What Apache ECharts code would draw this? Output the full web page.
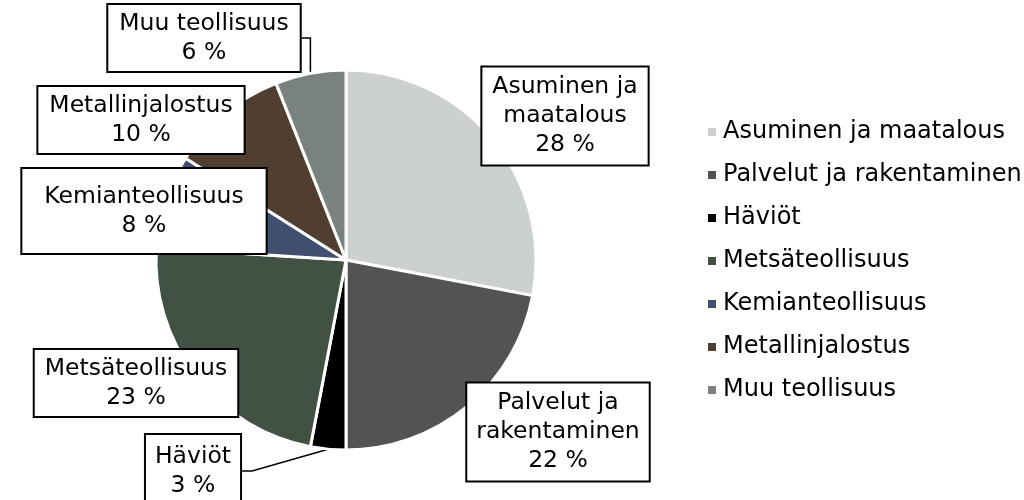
<!DOCTYPE html>
<html>
<head>
<meta charset="utf-8">
<script src="https://cdn.jsdelivr.net/npm/echarts@6/dist/echarts.min.js"></script>
<style>
  html, body { margin: 0; padding: 0; background: #fff; }
  #chart { width: 1024px; height: 500px; }
</style>
</head>
<body>
<div id="chart"></div>
<script>
// data
const categories = ['Asuminen ja maatalous', 'Palvelut ja rakentaminen', 'Häviöt', 'Metsäteollisuus', 'Kemianteollisuus', 'Metallinjalostus', 'Muu teollisuus'];
const shares = [28, 22, 3, 23, 8, 10, 6];
const labelNames = ['Asuminen ja\nmaatalous', 'Palvelut ja\nrakentaminen', 'Häviöt', 'Metsäteollisuus', 'Kemianteollisuus', 'Metallinjalostus', 'Muu teollisuus'];

// styling / label box layout
const colors = ['#cdd0d0', '#535353', '#000000', '#415143', '#404f6f', '#503f30', '#7a8280'];
const labelCenters = [[565, 116], [558, 432], [193, 471], [136, 383], [144, 211], [141, 120], [204, 38]];
const labelPadding = [[5, 10], [5, 9], [7, 9], [4, 10], [13, 22], [4, 11], [4, 11]];
const withPointer = [false, false, true, false, false, false, true];

const chart = echarts.init(document.getElementById('chart'));

const pieData = categories.map((name, i) => ({
  name: name,
  value: shares[i],
  itemStyle: { color: colors[i] },
  label: { padding: labelPadding[i] },
  labelLine: { show: withPointer[i] }
}));

chart.setOption({
  animation: false,
  textStyle: { fontFamily: 'DejaVu Sans' },
  legend: {
    orient: 'vertical',
    left: 701,
    top: 113,
    icon: 'rect',
    itemWidth: 10,
    itemHeight: 10,
    itemGap: 15,
    data: categories,
    textStyle: {
      color: '#000',
      fontSize: 24,
      lineHeight: 28,
      padding: [0, 0, 0, 1],
      fontFamily: 'DejaVu Sans'
    }
  },
  series: [
    {
      type: 'pie',
      center: [346, 260],
      radius: 190,
      startAngle: 90,
      clockwise: true,
      avoidLabelOverlap: false,
      itemStyle: {
        borderColor: '#fff',
        borderWidth: 3
      },
      label: {
        show: true,
        position: 'outside',
        formatter: p => labelNames[p.dataIndex] + '\n' + p.value + ' %',
        color: '#000',
        fontFamily: 'DejaVu Sans',
        fontSize: 23.5,
        lineHeight: 29,
        align: 'center',
        backgroundColor: '#fff',
        borderColor: '#000',
        borderWidth: 2
      },
      labelLine: {
        length: 10,
        length2: 10,
        lineStyle: { color: '#000', width: 1.5 }
      },
      labelLayout: params => ({
        x: labelCenters[params.dataIndex][0],
        y: labelCenters[params.dataIndex][1],
        align: 'center',
        verticalAlign: 'middle'
      }),
      data: pieData
    }
  ]
});
</script>
</body>
</html>
